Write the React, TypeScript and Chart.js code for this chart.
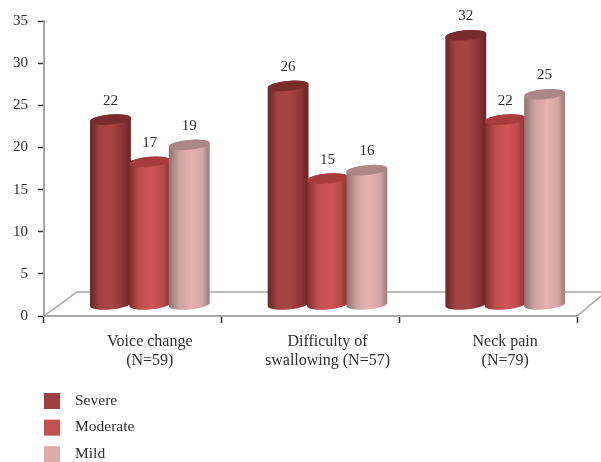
import React, { useEffect, useRef } from "react";
import { Chart, registerables } from "chart.js";

Chart.register(...registerables);

const categories = [
  ["Voice change", "(N=59)"],
  ["Difficulty of", "swallowing (N=57)"],
  ["Neck pain", "(N=79)"],
];
const severe = [22, 26, 32];
const moderate = [17, 15, 22];
const mild = [19, 16, 25];

const seriesNames = ["Severe", "Moderate", "Mild"];
const legendColors = ["#9e4040", "#c25050", "#dcaaaa"];
const topColors = ["#7a2c2c", "#a83c3c", "#ad8787"];
const shadeStops = [
  ["#6a2424", "#a44242", "#a84444", "#8a3434", "#692424"],
  ["#7e2c2c", "#c04c4c", "#d25656", "#b84a4a", "#863232"],
  ["#8f7070", "#cfa2a2", "#e6b2b2", "#d6a6a6", "#9a7878"],
];

const FONT = "'Liberation Serif', serif";
const TEXT = "#2e2e2e";
const FLOOR = "#a6a6a6";

// Offset of the raised floor behind the plotting plane.
const DEPTH_X = 17;
const DEPTH_Y = 11;
const TILT = -0.09;

function drawCylinder(ctx, bar, datasetIndex) {
  const cx = bar.x + DEPTH_X;
  const rx = bar.width / 2 + 0.8;
  const ry = 5;
  const top = bar.y - DEPTH_Y;
  const bottom = bar.base - DEPTH_Y;

  const grad = ctx.createLinearGradient(cx - rx, 0, cx + rx, 0);
  const stops = shadeStops[datasetIndex];
  [0, 0.25, 0.55, 0.82, 1].forEach((at, i) => grad.addColorStop(at, stops[i]));

  ctx.save();
  ctx.fillStyle = grad;
  ctx.beginPath();
  ctx.ellipse(cx, bottom, rx, ry, TILT, 0, Math.PI);
  ctx.ellipse(cx, top, rx, ry, TILT, Math.PI, Math.PI * 2);
  ctx.closePath();
  ctx.fill();

  ctx.fillStyle = topColors[datasetIndex];
  ctx.beginPath();
  ctx.ellipse(cx, top, rx, ry, TILT, 0, Math.PI * 2);
  ctx.fill();
  ctx.restore();
}

const cylinderPlugin = {
  id: "cylinders",
  beforeDatasetsDraw(chart) {
    const { ctx, chartArea: area } = chart;

    // Floor outline running behind the columns.
    ctx.save();
    ctx.strokeStyle = FLOOR;
    ctx.lineWidth = 1.5;
    ctx.beginPath();
    ctx.moveTo(area.left, area.bottom);
    ctx.lineTo(area.left + 33, area.bottom - 24);
    ctx.lineTo(chart.width, area.bottom - 24);
    ctx.moveTo(area.right, area.bottom);
    ctx.lineTo(chart.width, area.bottom - 20);
    ctx.stroke();
    ctx.restore();

    chart.data.datasets.forEach((_, i) => {
      chart.getDatasetMeta(i).data.forEach((bar) => drawCylinder(ctx, bar, i));
    });

    // Value captions above each column.
    ctx.save();
    ctx.fillStyle = TEXT;
    ctx.font = `15px ${FONT}`;
    ctx.textAlign = "center";
    ctx.textBaseline = "middle";
    chart.data.datasets.forEach((ds, i) => {
      chart.getDatasetMeta(i).data.forEach((bar, j) => {
        ctx.fillText(String(ds.data[j]), bar.x + DEPTH_X, bar.y - DEPTH_Y - 19);
      });
    });
    ctx.restore();
  },
  beforeDatasetDraw() {
    return false;
  },
  afterDraw(chart) {
    const { ctx } = chart;
    ctx.save();
    ctx.font = `15.5px ${FONT}`;
    ctx.textBaseline = "middle";
    chart.data.datasets.forEach((ds, i) => {
      const y = 393 + i * 26.6;
      ctx.fillStyle = ds.backgroundColor;
      ctx.fillRect(44, y, 16, 16);
      ctx.fillStyle = TEXT;
      ctx.fillText(ds.label, 75, y + 7.5);
    });
    ctx.restore();
  },
};

export default function App() {
  const canvasRef = useRef(null);

  useEffect(() => {
    document.body.style.margin = "0";
    const chart = new Chart(canvasRef.current, {
      type: "bar",
      data: {
        labels: categories,
        datasets: [severe, moderate, mild].map((data, i) => ({
          label: seriesNames[i],
          data,
          backgroundColor: legendColors[i],
        })),
      },
      plugins: [cylinderPlugin],
      options: {
        responsive: false,
        animation: false,
        layout: { padding: { top: 21, right: 24, bottom: 80, left: 0 } },
        datasets: { bar: { categoryPercentage: 0.665, barPercentage: 1 } },
        plugins: { legend: { display: false }, tooltip: { enabled: false } },
        scales: {
          x: {
            afterFit: (s) => {
              s.height = 66;
            },
            border: { color: FLOOR, width: 2 },
            grid: {
              drawOnChartArea: false,
              tickLength: 7,
              tickColor: "#333333",
              tickWidth: 1.5,
            },
            ticks: {
              color: TEXT,
              maxRotation: 0,
              autoSkip: false,
              padding: 9,
              labelOffset: DEPTH_X,
              font: { family: FONT, size: 16, lineHeight: 1.19 },
            },
          },
          y: {
            min: 0,
            max: 35,
            afterFit: (s) => {
              s.width = 44;
            },
            border: { color: FLOOR, width: 2 },
            grid: {
              drawOnChartArea: false,
              tickLength: 6,
              tickColor: "#333333",
              tickWidth: 1.5,
            },
            ticks: {
              stepSize: 5,
              color: TEXT,
              padding: 10,
              font: { family: FONT, size: 15 },
            },
          },
        },
      },
    });
    return () => chart.destroy();
  }, []);

  return <canvas ref={canvasRef} width={601} height={462} style={{ display: "block" }} />;
}
